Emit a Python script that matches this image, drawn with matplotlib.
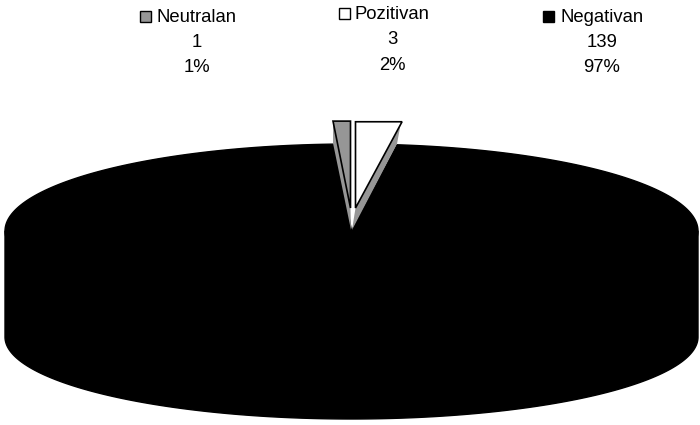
import numpy as np
import matplotlib
matplotlib.use("Agg")
import matplotlib.pyplot as plt
from matplotlib.patches import Polygon, Rectangle

plt.rcParams['font.family'] = ['Liberation Sans', 'DejaVu Sans']

labels = ['Neutralan', 'Pozitivan', 'Negativan']
counts = [1, 3, 139]
percents = ['1%', '2%', '97%']
colors = ['#969696', '#ffffff', '#000000']

# pie geometry in pixels
cx, cy = 351.5, 231
rx, ry = 346.5, 87
depth = 106
bottom_ry = 82

fig = plt.figure(figsize=(7, 4.25), dpi=100)
ax = fig.add_axes([0, 0, 1, 1])
ax.set_xlim(0, 700)
ax.set_ylim(425, 0)
ax.axis('off')


def pt(a, x0=cx, y0=cy):
    # angle in degrees, clockwise from 12 o'clock
    a = np.radians(a)
    return x0 + rx*np.sin(a), y0 - ry*np.cos(a)


total = sum(counts)
sweep = [c/total*360 for c in counts]
a_gray = -sweep[0]
a_white = sweep[1]

# black slice: side wall, then top
t = np.linspace(a_white, 360 + a_gray, 300)
x, y = pt(t)
ax.add_patch(Polygon(np.column_stack([np.r_[cx, x], np.r_[cy, y]]), fc='k', ec='k', lw=1, zorder=2))
t2 = np.linspace(90, 270, 300)
x2 = cx + rx*np.sin(np.radians(t2))
y2 = cy + depth - bottom_ry*np.cos(np.radians(t2))
ax.add_patch(Polygon(np.column_stack([np.r_[cx + rx, x2, cx - rx], np.r_[cy, y2, cy]]), fc='k', ec='k', lw=1, zorder=1))

# exploded slices, top edge is flat in the original
off_gray = (-1, -23)
off_white = (4, -23)
wall = 22

# neutral slice
gx, gy = cx + off_gray[0], cy + off_gray[1]
ex, ey = pt(a_gray*1.15, gx, gy)
ax.add_patch(Polygon([(ex, ey), (gx, gy), (gx + 0.5, gy + wall), (ex, ey + wall)], fc=colors[0], ec='none', zorder=3))
ax.add_patch(Polygon([(gx, gy), (ex, ey), (gx, ey)], fc=colors[0], ec='k', lw=1.2, zorder=4))

# positive slice
wx, wy = cx + off_white[0], cy + off_white[1]
ex, ey = pt(a_white, wx, wy)
ax.add_patch(Polygon([(ex, ey), (wx, wy), (wx - 3.5, wy + wall), (ex - 4, ey + wall)], fc=colors[0], ec='none', zorder=3))
ax.add_patch(Polygon([(wx, wy), (ex + 1, ey), (wx, ey)], fc=colors[1], ec='k', lw=1.2, zorder=4))

# labels above the pie
square_x = [140, 339, 543]
text_x = [157, 354, 561]
center_x = [197, 392, 602]
row_y = [[17, 42, 67], [14, 39, 65], [17, 42, 67]]
for i in range(3):
    ax.add_patch(Rectangle((square_x[i], row_y[i][0] - 6), 11, 11, fc=colors[i], ec='k', lw=1))
    ax.text(text_x[i], row_y[i][0], labels[i], fontsize=13.3, ha='left', va='center', color='k')
    ax.text(center_x[i], row_y[i][1], str(counts[i]), fontsize=13.3, ha='center', va='center', color='k')
    ax.text(center_x[i], row_y[i][2], percents[i], fontsize=13.3, ha='center', va='center', color='k')

fig.savefig('out.png', dpi=100)
